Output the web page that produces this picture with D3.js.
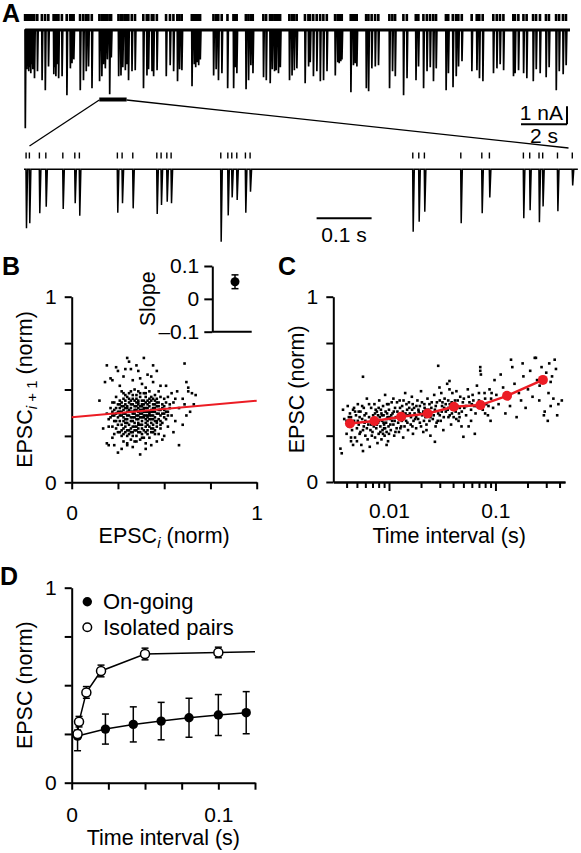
<!DOCTYPE html>
<html><head><meta charset="utf-8">
<script src="https://cdn.jsdelivr.net/npm/d3@7"></script>
<style>
body{margin:0;background:#fff}
svg{display:block;font-family:"Liberation Sans",Arial,Helvetica,sans-serif}
</style></head><body>
<svg id="fig" width="581" height="853"></svg>
<script>
// ---------------- DATA ----------------
// Panel A: on-going EPSC train (time s, amplitude nA)
const topEvents = [
[0.00,5.50],[0.07,2.22],[0.11,2.00],[0.15,2.33],[0.20,2.11],[0.24,2.44],[0.28,1.94],[0.33,2.22],[0.36,2.06],[0.40,2.72],[0.53,2.33],[0.73,2.83],[0.87,3.39],[1.01,2.06],[1.24,2.50],[1.28,2.11],[1.33,2.61],[1.37,1.94],[1.45,2.72],[1.60,2.61],[1.81,3.67],[1.96,2.17],[2.03,1.89],[2.11,1.67],[2.39,3.39],[2.53,2.83],[2.65,2.33],[2.75,2.06],[2.90,3.28],[3.23,2.89],[3.33,2.61],[3.40,1.94],[3.48,2.17],[3.57,1.67],[3.67,3.61],[3.74,1.56],[4.06,2.61],[4.16,2.56],[4.24,2.11],[4.35,2.28],[4.42,1.94],[4.49,2.83],[4.64,2.33],[4.78,2.28],[5.14,3.28],[5.29,2.56],[5.36,2.22],[5.51,2.33],[5.58,2.61],[5.73,2.28],[6.13,2.61],[6.30,2.00],[6.45,2.33],[6.62,2.89],[6.71,2.22],[6.81,2.28],[7.25,3.17],[7.35,1.94],[7.41,2.11],[7.48,1.83],[7.54,2.00],[7.61,1.67],[8.19,2.56],[8.30,2.22],[8.40,2.83],[8.55,2.44],[8.80,3.28],[9.06,3.28],[9.13,2.11],[9.20,2.44],[9.60,3.33],[9.71,2.83],[9.81,2.00],[9.90,2.44],[10.36,2.67],[10.48,2.83],[10.65,3.00],[10.74,2.22],[10.84,2.33],[10.91,2.28],[11.01,2.44],[11.09,2.11],[11.49,2.83],[11.60,2.56],[11.70,2.28],[11.81,2.17],[12.17,3.00],[12.32,2.06],[12.39,1.83],[12.53,2.61],[12.68,2.33],[12.83,2.89],[12.97,2.83],[13.12,2.33],[13.48,2.56],[13.59,1.83],[13.65,1.89],[13.72,1.78],[13.77,1.67],[14.16,3.50],[14.27,2.00],[14.35,1.89],[14.42,2.06],[14.83,3.28],[14.93,3.44],[15.07,2.17],[15.22,2.06],[15.36,2.00],[15.84,3.28],[15.97,2.33],[16.09,2.61],[16.45,3.67],[16.60,2.72],[16.99,2.83],[17.10,2.06],[17.32,3.28],[17.47,2.33],[17.61,2.11],[17.75,2.89],[17.87,2.17],[18.30,3.39],[18.40,2.44],[18.60,3.22],[18.74,2.61],[18.84,2.06],[18.99,1.78],[19.42,2.33],[19.64,2.28],[19.75,2.72],[19.90,2.89],[20.36,2.44],[20.51,2.17],[20.65,1.94],[20.80,2.28],[21.23,2.61],[21.30,2.44],[21.45,2.28],[21.67,2.44],[21.81,2.72],[22.09,2.89],[22.22,2.22],[22.39,2.44],[22.65,2.67],[22.78,2.11],[23.09,3.39],[23.22,2.33],[23.39,2.50],[23.52,2.00]
];
const topDuration = 23.7;           // s
const zoomWindow = [3.23, 4.42];    // s, expanded segment
// expanded trace (time s within window, amplitude nA)
const zoomEvents = [
[0.0036,3.28],[0.0096,3.00],[0.0278,2.44],[0.0395,2.08],[0.0704,2.20],[0.0922,1.89],[0.1005,2.58],[0.1696,2.41],[0.1782,1.89],[0.1976,2.17],[0.2413,2.48],[0.2491,1.98],[0.2595,1.80],[0.2673,1.89],[0.3576,4.02],[0.3704,2.56],[0.3776,1.56],[0.3867,1.71],[0.4024,2.41],[0.4109,1.24],[0.7067,3.47],[0.7176,2.91],[0.7278,2.36],[0.7940,3.00],[0.8322,2.44],[0.8460,1.56],[0.9078,2.72],[0.9193,2.28],[0.9362,2.94],[0.9429,2.06],[0.9698,2.33],[0.9967,0.90]
];
const zoomDuration = 1.007;

// Panel B: EPSC_i vs EPSC_i+1 (norm)
const bPoints = [
[0.30,0.67],[0.31,0.65],[0.39,0.67],[0.19,0.63],[0.24,0.62],[0.25,0.60],[0.29,0.61],[0.32,0.61],[0.35,0.63],[0.36,0.60],[0.44,0.63],[0.46,0.60],[0.61,0.64],[0.21,0.56],[0.22,0.55],[0.41,0.58],[0.43,0.57],[0.18,0.54],[0.48,0.52],[0.51,0.52],[0.62,0.54],[0.63,0.51],[0.15,0.44],[0.65,0.48],[0.67,0.47],[0.63,0.49],[0.57,0.49],[0.54,0.48],[0.52,0.46],[0.56,0.45],[0.60,0.45],[0.50,0.45],[0.61,0.42],[0.66,0.42],[0.58,0.40],[0.55,0.43],[0.28,0.57],[0.33,0.55],[0.37,0.56],[0.26,0.52],[0.38,0.53],[0.44,0.54],[0.40,0.51],
[0.17,0.29],[0.20,0.30],[0.19,0.21],[0.20,0.20],[0.23,0.20],[0.25,0.16],[0.30,0.20],[0.37,0.15],[0.40,0.18],[0.43,0.20],[0.49,0.23],[0.55,0.27],[0.58,0.20],[0.60,0.31],[0.50,0.25],[0.45,0.26],[0.27,0.18],[0.33,0.19],[0.22,0.24],[0.35,0.22],[0.52,0.30],[0.56,0.33],[0.62,0.36],[0.64,0.38],
[0.27,0.49],[0.31,0.48],[0.34,0.50],[0.36,0.49],[0.39,0.48],[0.42,0.49],[0.45,0.47],[0.29,0.47],[0.47,0.49],
[0.24,0.46],[0.28,0.45],[0.30,0.46],[0.33,0.47],[0.35,0.45],[0.37,0.46],[0.40,0.46],[0.41,0.44],[0.43,0.46],[0.46,0.45],[0.48,0.46],[0.32,0.44],[0.26,0.44],
[0.22,0.43],[0.25,0.42],[0.27,0.43],[0.29,0.42],[0.31,0.43],[0.33,0.42],[0.34,0.44],[0.36,0.43],[0.38,0.42],[0.39,0.44],[0.41,0.42],[0.42,0.43],[0.44,0.42],[0.45,0.44],[0.47,0.43],[0.49,0.42],[0.51,0.43],[0.30,0.41],[0.35,0.41],[0.40,0.40],
[0.21,0.40],[0.23,0.39],[0.26,0.40],[0.28,0.39],[0.29,0.40],[0.31,0.39],[0.32,0.40],[0.34,0.39],[0.36,0.40],[0.37,0.39],[0.38,0.41],[0.39,0.39],[0.41,0.40],[0.43,0.39],[0.44,0.40],[0.46,0.41],[0.47,0.39],[0.49,0.40],[0.50,0.39],[0.53,0.40],[0.33,0.38],[0.42,0.38],
[0.19,0.37],[0.22,0.36],[0.24,0.37],[0.26,0.38],[0.27,0.36],[0.29,0.37],[0.30,0.38],[0.31,0.36],[0.33,0.37],[0.35,0.36],[0.36,0.38],[0.38,0.37],[0.39,0.36],[0.40,0.38],[0.42,0.37],[0.43,0.36],[0.45,0.38],[0.46,0.37],[0.48,0.36],[0.50,0.37],[0.52,0.38],[0.54,0.36],[0.28,0.35],[0.37,0.35],[0.41,0.35],[0.44,0.34],
[0.20,0.34],[0.23,0.33],[0.25,0.35],[0.26,0.33],[0.28,0.33],[0.30,0.34],[0.32,0.33],[0.33,0.35],[0.34,0.32],[0.36,0.34],[0.38,0.33],[0.39,0.35],[0.40,0.32],[0.42,0.34],[0.43,0.32],[0.45,0.33],[0.47,0.34],[0.49,0.32],[0.51,0.34],[0.31,0.31],[0.35,0.30],[0.27,0.31],
[0.22,0.30],[0.24,0.29],[0.25,0.31],[0.28,0.29],[0.29,0.30],[0.30,0.28],[0.32,0.29],[0.33,0.30],[0.34,0.28],[0.36,0.29],[0.37,0.31],[0.38,0.29],[0.40,0.30],[0.41,0.28],[0.43,0.29],[0.44,0.31],[0.46,0.30],[0.48,0.29],[0.26,0.27],
[0.23,0.26],[0.27,0.25],[0.29,0.27],[0.30,0.25],[0.31,0.26],[0.33,0.27],[0.35,0.25],[0.36,0.27],[0.38,0.26],[0.39,0.24],[0.41,0.26],[0.42,0.24],[0.44,0.27],[0.47,0.26],[0.32,0.23],[0.28,0.22],[0.34,0.22],[0.37,0.23],[0.40,0.21],[0.46,0.22],[0.30,0.21],
[0.26,0.36],[0.27,0.41],[0.28,0.37],[0.29,0.34],[0.30,0.40],[0.30,0.32],[0.31,0.45],[0.31,0.38],[0.32,0.35],[0.32,0.42],[0.33,0.33],[0.33,0.45],[0.34,0.37],[0.34,0.41],[0.35,0.34],[0.35,0.39],[0.35,0.47],[0.36,0.32],[0.36,0.36],[0.36,0.44],[0.37,0.41],[0.37,0.37],[0.38,0.35],[0.38,0.44],[0.38,0.31],[0.39,0.38],[0.39,0.42],[0.40,0.34],[0.40,0.36],[0.40,0.43],[0.41,0.38],[0.41,0.33],[0.42,0.36],[0.42,0.41],[0.42,0.30],[0.43,0.38],[0.43,0.44],[0.44,0.36],[0.44,0.38],[0.45,0.35],[0.45,0.40],[0.46,0.33],[0.46,0.43],[0.47,0.37],[0.47,0.41],[0.48,0.39],[0.48,0.33],[0.49,0.37],[0.50,0.41],[0.50,0.35],[0.51,0.38],[0.52,0.36],[0.53,0.42],[0.29,0.44],[0.28,0.41],[0.27,0.38],[0.26,0.42],[0.25,0.38],[0.24,0.33],[0.24,0.40],[0.23,0.36],[0.23,0.43],[0.22,0.38],[0.21,0.35],[0.25,0.27],[0.27,0.28],[0.28,0.26],[0.29,0.32],[0.31,0.28],[0.32,0.27],[0.33,0.25],[0.34,0.30],[0.35,0.28],[0.36,0.31],[0.37,0.27],[0.38,0.24],[0.39,0.28],[0.40,0.27],[0.41,0.31],[0.43,0.27],[0.44,0.29],[0.45,0.28],[0.46,0.32],[0.48,0.31],[0.30,0.36],[0.32,0.38],[0.34,0.35],[0.36,0.42],[0.39,0.40],[0.41,0.36],[0.43,0.34],[0.44,0.45],[0.37,0.48],[0.40,0.48],[0.32,0.49],[0.28,0.48],[0.35,0.43],[0.38,0.39],[0.42,0.45],[0.45,0.42]
];
const bFitX = [0, 1];
const bFitY = [0.35, 0.44];
const bTicks = [0, 0.25, 0.5, 0.75, 1];
const slopeMean = 0.052, slopeErr = 0.021;
const slopeTicks = [-0.1, 0, 0.1];

// Panel C: EPSC vs preceding interval
const cPoints = [
[0.0035,0.18],[0.0036,0.155],[0.0038,0.34],[0.0040,0.26],[0.0041,0.41],[0.0042,0.30],[0.0043,0.37],[0.0044,0.22],[0.0045,0.28],[0.0046,0.39],[0.0047,0.33],[0.0048,0.24],[0.0049,0.36],[0.0050,0.29],[0.0051,0.42],[0.0052,0.31],[0.0053,0.26],[0.0054,0.38],[0.0055,0.20],[0.0056,0.34],[0.0057,0.28],[0.0058,0.40],[0.0059,0.32],[0.0060,0.25],[0.0040,0.33],[0.0044,0.35],[0.0047,0.40],[0.0050,0.22],[0.0053,0.35],[0.0058,0.30],[0.0037,0.39],[0.0061,0.37],[0.0062,0.45],[0.0063,0.23],[0.0064,0.31],[0.0065,0.35],[0.0066,0.19],[0.0067,0.28],[0.0068,0.40],[0.0069,0.33],[0.0046,0.20],[0.0057,0.167],[0.0057,0.568],
[0.0070,0.27],[0.0071,0.36],[0.0072,0.30],[0.0073,0.42],[0.0074,0.24],[0.0075,0.34],[0.0076,0.29],[0.0077,0.38],[0.0078,0.21],[0.0079,0.32],[0.0080,0.26],[0.0081,0.44],[0.0082,0.35],[0.0083,0.30],[0.0084,0.39],[0.0085,0.23],[0.0086,0.33],[0.0087,0.28],[0.0088,0.41],[0.0089,0.36],[0.0090,0.31],[0.0091,0.25],[0.0092,0.47],[0.0093,0.38],[0.0094,0.32],[0.0095,0.27],[0.0096,0.42],[0.0097,0.35],[0.0098,0.22],[0.0099,0.30],[0.0100,0.39],[0.0102,0.34],[0.0104,0.28],[0.0106,0.43],[0.0108,0.37],[0.0110,0.31],[0.0112,0.25],[0.0114,0.40],[0.0116,0.35],[0.0118,0.29],[0.0075,0.39],[0.0080,0.33],[0.0085,0.37],[0.0090,0.29],[0.0095,0.34],[0.0100,0.26],[0.0105,0.36],[0.0110,0.45],[0.0095,0.20],
[0.0120,0.38],[0.0122,0.32],[0.0124,0.27],[0.0126,0.44],[0.0128,0.36],[0.0130,0.30],[0.0133,0.41],[0.0136,0.24],[0.0139,0.35],[0.0142,0.48],[0.0145,0.33],[0.0148,0.39],[0.0151,0.28],[0.0154,0.43],[0.0157,0.37],[0.0160,0.31],[0.0164,0.46],[0.0168,0.26],[0.0172,0.40],[0.0176,0.34],[0.0180,0.29],[0.0185,0.44],[0.0190,0.38],[0.0195,0.32],[0.0200,0.49],[0.0205,0.36],[0.0210,0.27],[0.0215,0.42],[0.0220,0.35],[0.0225,0.31],[0.0230,0.45],[0.0235,0.39],[0.0240,0.33],[0.0245,0.25],[0.0125,0.34],[0.0135,0.38],[0.0150,0.36],[0.0165,0.39],[0.0180,0.35],[0.0195,0.41],[0.0210,0.38],[0.0225,0.28],[0.0240,0.42],[0.0140,0.30],[0.0170,0.33],[0.0200,0.30],
[0.0250,0.40],[0.0258,0.34],[0.0266,0.47],[0.0274,0.30],[0.0282,0.43],[0.0290,0.37],[0.0298,0.51],[0.0306,0.33],[0.0315,0.41],[0.0324,0.28],[0.0333,0.45],[0.0342,0.38],[0.0352,0.53],[0.0362,0.35],[0.0372,0.42],[0.0383,0.31],[0.0394,0.48],[0.0405,0.39],[0.0417,0.44],[0.0429,0.34],[0.0441,0.41],[0.0454,0.37],[0.0467,0.46],[0.0480,0.30],[0.0494,0.43],[0.0270,0.39],[0.0300,0.36],[0.0330,0.40],[0.0360,0.44],[0.0390,0.37],[0.0420,0.40],[0.0450,0.33],[0.0310,0.48],[0.0370,0.50],[0.0430,0.49],[0.0270,0.217],[0.0290,0.627],[0.0370,0.545],[0.0500,0.244],
[0.0510,0.40],[0.0530,0.36],[0.0550,0.50],[0.0570,0.43],[0.0590,0.33],[0.0610,0.47],[0.0630,0.41],[0.0650,0.37],[0.0670,0.52],[0.0700,0.44],[0.0730,0.58],[0.0760,0.39],[0.0790,0.48],[0.0820,0.42],[0.0850,0.36],[0.0880,0.50],[0.0910,0.45],[0.0950,0.40],[0.0980,0.55],[0.0560,0.30],[0.0640,0.26],[0.0720,0.62],[0.0720,0.60],[0.0600,0.42],[0.0800,0.37],[0.0900,0.33],
[0.102,0.47],[0.107,0.42],[0.112,0.58],[0.118,0.51],[0.124,0.37],[0.130,0.46],[0.137,0.41],[0.144,0.62],[0.151,0.53],[0.158,0.35],[0.166,0.48],[0.174,0.44],[0.183,0.57],[0.192,0.40],[0.202,0.50],[0.212,0.60],[0.223,0.46],[0.234,0.67],[0.240,0.67],[0.246,0.55],[0.258,0.44],[0.271,0.62],[0.285,0.36],[0.290,0.38],[0.300,0.59],[0.310,0.33],[0.315,0.48],[0.320,0.64],[0.330,0.41],[0.340,0.57],[0.350,0.45],[0.360,0.66],[0.370,0.61],[0.380,0.36],[0.390,0.42],[0.420,0.44],[0.140,0.66],[0.180,0.64],[0.260,0.52],[0.330,0.54],
[0.0042,0.35],[0.0045,0.31],[0.0048,0.38],[0.0051,0.33],[0.0054,0.27],[0.0056,0.41],[0.0059,0.36],[0.0062,0.29],[0.0065,0.42],[0.0068,0.31],[0.0071,0.34],[0.0074,0.37],[0.0077,0.31],[0.0080,0.40],[0.0083,0.27],[0.0086,0.36],[0.0089,0.32],[0.0092,0.29],[0.0096,0.37],[0.0099,0.42],[0.0103,0.31],[0.0107,0.33],[0.0111,0.38],[0.0115,0.27],[0.0119,0.43],[0.0123,0.35],[0.0127,0.40],[0.0132,0.33],[0.0137,0.44],[0.0143,0.37],[0.0149,0.32],[0.0155,0.40],[0.0161,0.35],[0.0167,0.42],[0.0174,0.37],[0.0181,0.41],[0.0188,0.34],[0.0196,0.37],[0.0204,0.43],[0.0213,0.33],[0.0222,0.39],[0.0231,0.36],[0.0241,0.38],[0.0252,0.43],[0.0263,0.36],[0.0275,0.41],[0.0287,0.33],[0.0300,0.44],[0.0313,0.38],[0.0327,0.35],[0.0341,0.42],[0.0356,0.39],[0.0372,0.36],[0.0388,0.43],[0.0405,0.35],[0.0423,0.38],[0.0442,0.44],[0.0462,0.40],[0.0483,0.38],[0.0505,0.45],[0.0530,0.41],[0.0560,0.46],[0.0590,0.39],[0.0620,0.44],[0.0660,0.41],[0.0700,0.48],[0.0750,0.43],[0.0800,0.45],[0.0860,0.41],[0.0920,0.48],[0.0044,0.24],[0.0052,0.38],[0.0060,0.33],[0.0069,0.25],[0.0079,0.36],[0.0088,0.26],[0.0101,0.35],[0.0113,0.33],[0.0128,0.29],[0.0146,0.42],[0.0166,0.30],[0.0189,0.39],[0.0216,0.40],[0.0245,0.35],[0.0280,0.32],[0.0318,0.43],[0.0362,0.40],[0.0410,0.42],[0.0460,0.35]
];
const cMeanX = [0.0043, 0.0073, 0.0130, 0.0231, 0.0407, 0.0723, 0.1285, 0.279];
const cMeanY = [0.316, 0.329, 0.352, 0.370, 0.406, 0.415, 0.465, 0.551];
const cMajor = [0.01, 0.1];
const cMinor = [0.004,0.005,0.006,0.007,0.008,0.009,0.02,0.03,0.04,0.05,0.06,0.07,0.08,0.09,0.2,0.3,0.4];

// Panel D
const onX   = [0.004, 0.023, 0.042, 0.061, 0.080, 0.100, 0.119];
const onY   = [0.239, 0.275, 0.299, 0.316, 0.333, 0.347, 0.359];
const onErr = [0.075, 0.077, 0.090, 0.096, 0.100, 0.105, 0.108];
const isoX   = [0.004, 0.005, 0.010, 0.020, 0.050, 0.100];
const isoY   = [0.250, 0.313, 0.463, 0.573, 0.660, 0.668];
const isoErr = [0.020, 0.027, 0.030, 0.030, 0.030, 0.027];
const isoFitX = [0.004, 0.005, 0.010, 0.020, 0.050, 0.100, 0.125];
const isoFitY = [0.250, 0.313, 0.463, 0.573, 0.660, 0.668, 0.672];
const dXTicks = [0, 0.025, 0.05, 0.075, 0.1, 0.125];
const dYTicks = [0, 0.25, 0.5, 0.75, 1];
const legendLabels = ["On-going", "Isolated pairs"];

// ---------------- DRAW ----------------
const svg = d3.select("#fig");
const RED = "#ec1c24";
const FS = 21;     // tick labels
const FT = 21.5;   // titles
function styleAxis(g){
  g.attr("font-family", null).attr("font-size", FS);
  g.selectAll("path,line").attr("stroke","#000").attr("stroke-width",2);
  g.selectAll("text").attr("fill","#000");
}
function letter(t,x,y){ svg.append("text").attr("x",x).attr("y",y).attr("font-size",25).attr("font-weight","bold").text(t); }

// ---- Panel A ----
letter("A", 2, 21.5);
const tX = d3.scaleLinear().domain([0, topDuration]).range([25, 570]);
const aY = d3.scaleLinear().domain([0, 1]).range([29.3, 47.3]); // 18 px per nA
svg.append("g").selectAll("rect").data(topEvents).join("rect")
  .attr("x", d => tX(d[0]) - 1.2).attr("y", 14).attr("width", 2.6).attr("height", 7).attr("fill", "#000");
let pTop = `M${tX(0)},${aY(0)}`;
topEvents.forEach(d => { const x = tX(d[0]); pTop += `L${x},${aY(0)}L${x+0.3},${aY(d[1])}L${x+1.0},${aY(0)}`; });
pTop += `L${tX(topDuration)},${aY(0)}`;
svg.append("path").attr("d", pTop).attr("fill","none").attr("stroke","#000").attr("stroke-width",1.7);
svg.append("line").attr("x1",tX(0)).attr("x2",tX(topDuration)).attr("y1",aY(0)+1).attr("y2",aY(0)+1).attr("stroke","#000").attr("stroke-width",2.5);
// scale bars
const sbX = tX(topDuration) - 3;
svg.append("line").attr("x1",sbX).attr("x2",sbX).attr("y1",aY(0)+77).attr("y2",aY(1)+77).attr("stroke","#000").attr("stroke-width",2);
svg.append("line").attr("x1",sbX-(tX(2)-tX(0))).attr("x2",sbX).attr("y1",aY(1)+77).attr("y2",aY(1)+77).attr("stroke","#000").attr("stroke-width",2);
svg.append("text").attr("x",sbX-4).attr("y",aY(1)+73).attr("text-anchor","end").attr("font-size",FS).text("1 nA");
svg.append("text").attr("x",sbX-(tX(2)-tX(0))/2).attr("y",aY(1)+96).attr("text-anchor","middle").attr("font-size",FS).text("2 s");
// zoom window bar + connectors
const tZ = d3.scaleLinear().domain([0, 1]).range([24, 574]);
const zY = d3.scaleLinear().domain([0, 1]).range([169.3, 187.3]);
svg.append("line").attr("x1",tX(zoomWindow[0])).attr("x2",tX(zoomWindow[1])).attr("y1",99.5).attr("y2",99.5).attr("stroke","#000").attr("stroke-width",4);
svg.append("line").attr("x1",tX(zoomWindow[0])).attr("y1",100).attr("x2",tZ(0.01)).attr("y2",146).attr("stroke","#000").attr("stroke-width",1.3);
svg.append("line").attr("x1",tX(zoomWindow[1])).attr("y1",100).attr("x2",tZ(0.99)).attr("y2",148).attr("stroke","#000").attr("stroke-width",1.3);
svg.append("g").selectAll("rect").data(zoomEvents).join("rect")
  .attr("x", d => tZ(d[0]) - 0.6).attr("y", 152.5).attr("width", 1.4).attr("height", 6).attr("fill", "#000");
let pZ = `M${tZ(0)},${zY(0)}`;
zoomEvents.forEach(d => { const x = tZ(d[0]); pZ += `L${x},${zY(0)}L${x+0.5},${zY(d[1])}L${x+1.6},${zY(0)}`; });
pZ += `L${tZ(zoomDuration)},${zY(0)}`;
svg.append("path").attr("d", pZ).attr("fill","none").attr("stroke","#000").attr("stroke-width",1.5);
svg.append("line").attr("x1",tZ(0.532)).attr("x2",tZ(0.632)).attr("y1",218.3).attr("y2",218.3).attr("stroke","#000").attr("stroke-width",2);
svg.append("text").attr("x",tZ(0.582)).attr("y",242).attr("text-anchor","middle").attr("font-size",FS).text("0.1 s");

// ---- Panel B ----
letter("B", 2, 275);
const xB = d3.scaleLinear().domain([0,1]).range([71.7, 256.7]);
const yB = d3.scaleLinear().domain([0,1]).range([482.3, 296.7]);
const fmt01 = d => (d === 0 || d === 1) ? String(d) : "";
svg.append("g").attr("transform",`translate(0,${yB(0)})`)
  .call(d3.axisBottom(xB).tickValues(bTicks).tickSize(7).tickSizeOuter(0).tickPadding(16).tickFormat(fmt01)).call(styleAxis);
svg.append("g").attr("transform",`translate(${xB(0)},0)`)
  .call(d3.axisLeft(yB).tickValues(bTicks).tickSize(7).tickSizeOuter(0).tickPadding(8).tickFormat(fmt01)).call(styleAxis);
svg.append("g").selectAll("rect").data(bPoints).join("rect")
  .attr("x", d => xB(d[0]) - 1.3).attr("y", d => yB(d[1]) - 1.3).attr("width", 2.6).attr("height", 2.6).attr("fill", "#000");
svg.append("line").attr("x1",xB(bFitX[0])).attr("y1",yB(bFitY[0])).attr("x2",xB(bFitX[1])).attr("y2",yB(bFitY[1]))
  .attr("stroke",RED).attr("stroke-width",2);
const tB = svg.append("text").attr("x",xB(0.5)).attr("y",543).attr("text-anchor","middle").attr("font-size",FT);
tB.append("tspan").text("EPSC");
tB.append("tspan").attr("font-style","italic").attr("font-size",15).attr("dy",5).text("i");
tB.append("tspan").attr("dy",-5).text(" (norm)");
const tBy = svg.append("text").attr("transform",`translate(32,${yB(0.5)}) rotate(-90)`).attr("text-anchor","middle").attr("font-size",FT);
tBy.append("tspan").text("EPSC");
tBy.append("tspan").attr("font-size",15).attr("dy",5).html('<tspan font-style="italic">i</tspan> + 1');
tBy.append("tspan").attr("dy",-5).text(" (norm)");
// inset
const yS = d3.scaleLinear().domain([-0.1, 0.1]).range([331.7, 266]);
const xS0 = 212.3;
svg.append("g").attr("transform",`translate(${xS0},0)`)
  .call(d3.axisLeft(yS).tickValues(slopeTicks).tickSize(8).tickSizeOuter(0).tickPadding(5).tickFormat(d => d < 0 ? "–" + Math.abs(d) : String(d))).call(styleAxis);
svg.append("line").attr("x1",xS0).attr("x2",251.7).attr("y1",yS(-0.1)).attr("y2",yS(-0.1)).attr("stroke","#000").attr("stroke-width",2);
const sx = 235;
svg.append("line").attr("x1",sx).attr("x2",sx).attr("y1",yS(slopeMean-slopeErr)).attr("y2",yS(slopeMean+slopeErr)).attr("stroke","#000").attr("stroke-width",1.5);
[slopeMean-slopeErr, slopeMean+slopeErr].forEach(v => svg.append("line").attr("x1",sx-3.5).attr("x2",sx+3.5).attr("y1",yS(v)).attr("y2",yS(v)).attr("stroke","#000").attr("stroke-width",1.5));
svg.append("circle").attr("cx",sx).attr("cy",yS(slopeMean)).attr("r",4.5).attr("fill","#000");
svg.append("text").attr("transform",`translate(155,${yS(0)}) rotate(-90)`).attr("text-anchor","middle").attr("font-size",FT).text("Slope");

// ---- Panel C ----
letter("C", 278, 275);
const xC = d3.scaleLog().domain([0.003, 0.45]).range([333.3, 565]);
const yC = d3.scaleLinear().domain([0,1]).range([482, 296.7]);
svg.append("g").attr("transform",`translate(0,${yC(0)})`)
  .call(d3.axisBottom(xC).tickValues(cMajor).tickSize(9).tickSizeOuter(0).tickPadding(12).tickFormat(d => String(d))).call(styleAxis);
svg.append("g").attr("transform",`translate(0,${yC(0)})`)
  .call(d3.axisBottom(xC).tickValues(cMinor).tickSize(6).tickSizeOuter(0).tickFormat("")).call(styleAxis);
svg.append("g").attr("transform",`translate(${xC.range()[0]},0)`)
  .call(d3.axisLeft(yC).tickValues(bTicks).tickSize(7).tickSizeOuter(0).tickPadding(8).tickFormat(fmt01)).call(styleAxis);
svg.append("g").selectAll("rect").data(cPoints).join("rect")
  .attr("x", d => xC(d[0]) - 1.3).attr("y", d => yC(d[1]) - 1.3).attr("width", 2.6).attr("height", 2.6).attr("fill", "#000");
const cMeans = cMeanX.map((x,i) => [x, cMeanY[i]]);
svg.append("path").attr("d", d3.line().x(d => xC(d[0])).y(d => yC(d[1]))(cMeans)).attr("fill","none").attr("stroke",RED).attr("stroke-width",2.5);
svg.append("g").selectAll("circle").data(cMeans).join("circle")
  .attr("cx", d => xC(d[0])).attr("cy", d => yC(d[1])).attr("r", 5).attr("fill", RED);
svg.append("text").attr("x",(xC.range()[0]+xC.range()[1])/2).attr("y",543).attr("text-anchor","middle").attr("font-size",FT).text("Time interval (s)");
svg.append("text").attr("transform",`translate(304,${yC(0.5)}) rotate(-90)`).attr("text-anchor","middle").attr("font-size",FT).text("EPSC (norm)");

// ---- Panel D ----
letter("D", 0, 585);
const xD = d3.scaleLinear().domain([0, 0.125]).range([71.7, 255]);
const yD = d3.scaleLinear().domain([0, 1]).range([782.7, 587.7]);
svg.append("g").attr("transform",`translate(0,${yD(0)})`)
  .call(d3.axisBottom(xD).tickValues(dXTicks).tickSize(7).tickSizeOuter(0).tickPadding(17).tickFormat(d => (d===0||d===0.1) ? String(d) : "")).call(styleAxis);
svg.append("g").attr("transform",`translate(${xD(0)},0)`)
  .call(d3.axisLeft(yD).tickValues(dYTicks).tickSize(7).tickSizeOuter(0).tickPadding(8).tickFormat(fmt01)).call(styleAxis);
const lineD = d3.line().x(d => xD(d[0])).y(d => yD(d[1]));
const onData = onX.map((x,i) => [x, onY[i], onErr[i]]);
const isoData = isoX.map((x,i) => [x, isoY[i], isoErr[i]]);
svg.append("path").attr("d", lineD(onData)).attr("fill","none").attr("stroke","#000").attr("stroke-width",1.5);
svg.append("path").attr("d", lineD(isoFitX.map((x,i)=>[x, isoFitY[i]]))).attr("fill","none").attr("stroke","#000").attr("stroke-width",1.5);
function errBars(data){
  const g = svg.append("g").attr("stroke","#000").attr("stroke-width",1.5);
  data.forEach(d => {
    const x = xD(d[0]);
    g.append("line").attr("x1",x).attr("x2",x).attr("y1",yD(d[1]-d[2])).attr("y2",yD(d[1]+d[2]));
    [d[1]-d[2], d[1]+d[2]].forEach(v => g.append("line").attr("x1",x-3.5).attr("x2",x+3.5).attr("y1",yD(v)).attr("y2",yD(v)));
  });
}
errBars(onData);
errBars(isoData);
svg.append("g").selectAll("circle").data(onData).join("circle")
  .attr("cx", d => xD(d[0])).attr("cy", d => yD(d[1])).attr("r", 4.7).attr("fill", "#000");
svg.append("g").selectAll("circle").data(isoData).join("circle")
  .attr("cx", d => xD(d[0])).attr("cy", d => yD(d[1])).attr("r", 4.5).attr("fill", "#fff").attr("stroke","#000").attr("stroke-width",1.5);
svg.append("circle").attr("cx",87.3).attr("cy",601.7).attr("r",4.7).attr("fill","#000");
svg.append("circle").attr("cx",87.3).attr("cy",627.3).attr("r",4.3).attr("fill","#fff").attr("stroke","#000").attr("stroke-width",1.5);
svg.append("text").attr("x",103).attr("y",601.7).attr("dy","0.35em").attr("font-size",22).text(legendLabels[0]);
svg.append("text").attr("x",103).attr("y",627.3).attr("dy","0.35em").attr("font-size",22).text(legendLabels[1]);
svg.append("text").attr("x",(xD.range()[0]+xD.range()[1])/2).attr("y",845).attr("text-anchor","middle").attr("font-size",FT).text("Time interval (s)");
svg.append("text").attr("transform",`translate(32,${yD(0.5)}) rotate(-90)`).attr("text-anchor","middle").attr("font-size",FT).text("EPSC (norm)");
</script>
</body></html>
